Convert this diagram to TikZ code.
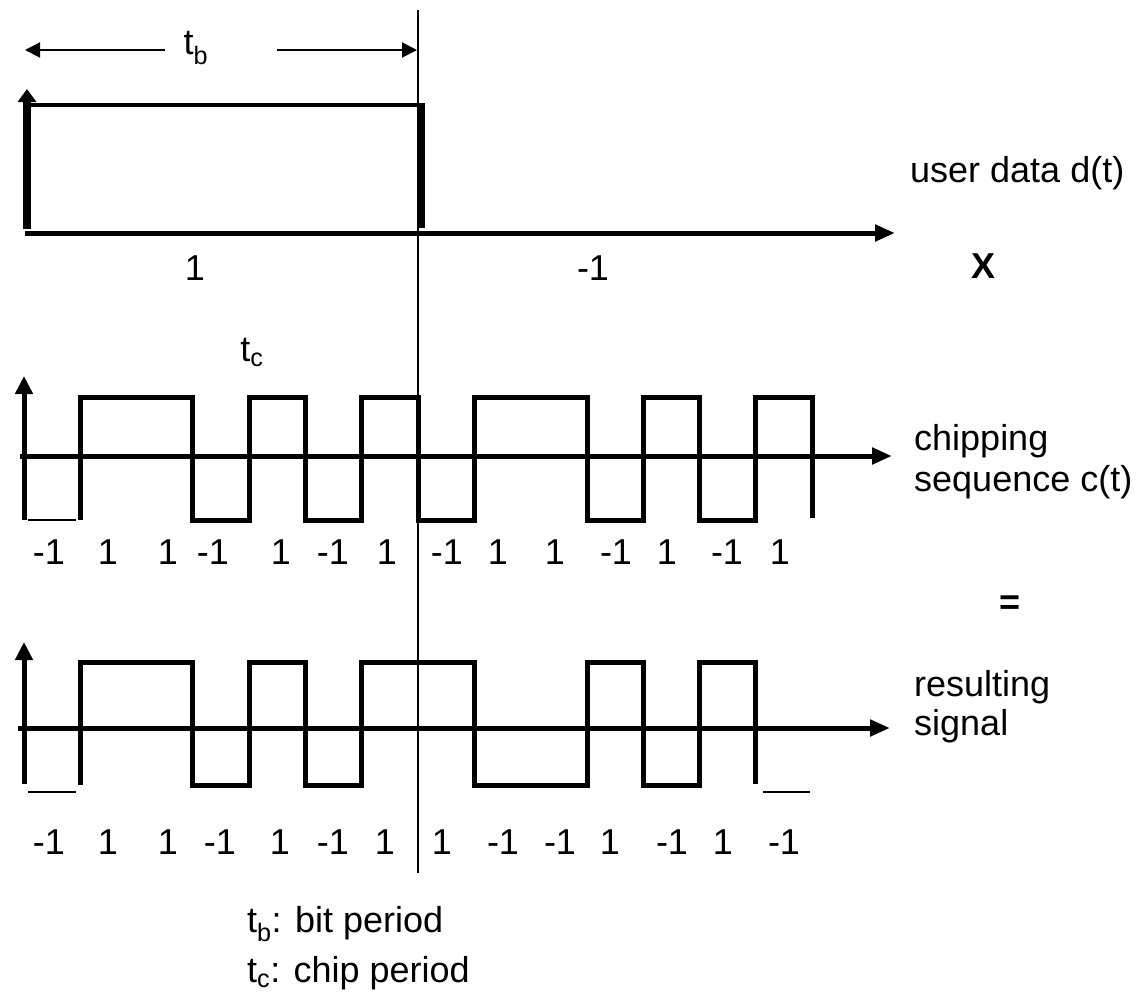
\documentclass[tikz,border=0pt]{standalone}
\usepackage{fontspec}
\setmainfont{Liberation Sans}
\usetikzlibrary{arrows.meta}
\begin{document}
\begin{tikzpicture}[x=1pt,y=-1pt,
  lbl/.style={inner sep=0pt,font=\fontsize{36}{42}\selectfont},
  boldlbl/.style={inner sep=0pt,font=\fontsize{36}{42}\selectfont\bfseries},
  sig/.style={line width=5pt,line join=miter,line cap=butt},
  thin/.style={line width=2pt},
  axis/.style={line width=5pt,-{Triangle[length=20pt,width=16pt]}},
  uparrow/.style={line width=5pt,-{Triangle[length=18pt,width=17pt]}},
  tbarrow/.style={line width=2pt,-{Triangle[length=15pt,width=15pt]}}]
\useasboundingbox (0,0) rectangle (1146,1002);
% bit boundary line
\coordinate (lt) at (418,10);
\coordinate (lb) at (418,873);
\draw[thin] (lt) -- (lb);
% t_b dimension
\node[lbl] (tb) at (196,48) {t\textsubscript{b}};
\coordinate (tbl) at (25,50);
\coordinate (tbr) at (417,50);
\coordinate (tbla) at (165,50);
\coordinate (tbra) at (277,50);
\draw[tbarrow] (tbla) -- (tbl);
\draw[tbarrow] (tbra) -- (tbr);
% user data
\coordinate (d0) at (25,233);
\coordinate (d1) at (895,233);
\draw[axis] (d0) -- (d1);
\draw[line width=7.5pt,-{Triangle[length=13pt,width=18pt]}] (27,229) -- (27,89);
\draw[line width=4.7pt] (25,105) -- (421,105);
\draw[line width=7pt] (421,103) -- (421,228);
\node[lbl] (u1) at (195,268) {1};
\node[lbl] (u2) at (593,268) {-1};
\node[boldlbl] (times) at (983,266) {X};
\node[lbl,anchor=base west] (ud) at (910,182) {user data d(t)};
% chipping sequence
\coordinate (c0) at (20,456);
\coordinate (c1) at (892,456);
\draw[axis] (c0) -- (c1);
\draw[uparrow] (24,520) -- (24,376);
\draw[thin] (28,520) -- (76,520);
\draw[sig] (80.3,520) -- (80.3,397) -- (192.9,397) -- (192.9,520) -- (249.2,520) -- (249.2,397)
  -- (305.5,397) -- (305.5,520) -- (361.8,520) -- (361.8,397) -- (418.1,397) -- (418.1,520)
  -- (474.4,520) -- (474.4,397) -- (587,397) -- (587,520) -- (643.3,520) -- (643.3,397)
  -- (699.6,397) -- (699.6,520) -- (755.9,520) -- (755.9,397) -- (812.2,397) -- (812.2,518);
\node[lbl] (tc) at (252,352) {t\textsubscript{c}};
\node[lbl,anchor=base west] (cs1) at (914,450) {chipping};
\node[lbl,anchor=base west] (cs2) at (914,491) {sequence c(t)};
\foreach \x/\t [count=\i] in {49/-1,108/1,168/1,213/-1,281/1,333/-1,387/1,447/-1,498/1,555/1,616/-1,667/1,727/-1,780/1}
  \node[lbl] (cl\i) at (\x,552) {\t};
\node[boldlbl] (eq) at (1010,605) {=};
% resulting signal
\coordinate (r0) at (18,728);
\coordinate (r1) at (890,728);
\draw[axis] (r0) -- (r1);
\draw[uparrow] (24,784) -- (24,642);
\draw[thin] (28,792) -- (76,792);
\draw[sig] (80.3,785) -- (80.3,662) -- (192.9,662) -- (192.9,785) -- (249.2,785) -- (249.2,662)
  -- (305.5,662) -- (305.5,785) -- (361.8,785) -- (361.8,662) -- (474.4,662) -- (474.4,785)
  -- (587,785) -- (587,662) -- (643.3,662) -- (643.3,785) -- (699.6,785) -- (699.6,662)
  -- (755.9,662) -- (755.9,784);
\draw[thin] (763,792) -- (810,792);
\node[lbl,anchor=base west] (rs1) at (914,696) {resulting};
\node[lbl,anchor=base west] (rs2) at (914,735) {signal};
\foreach \x/\t [count=\i] in {49/-1,108/1,168/1,220/-1,280/1,333/-1,385/1,442/1,503/-1,560/-1,610/1,672/-1,723/1,784/-1}
  \node[lbl] (rl\i) at (\x,842) {\t};
% legend
\node[lbl,anchor=base west] (leg1) at (247,932) {t\textsubscript{b}: bit period};
\node[lbl,anchor=base west] (leg2) at (247,982) {t\textsubscript{c}: chip period};
\end{tikzpicture}
\end{document}
